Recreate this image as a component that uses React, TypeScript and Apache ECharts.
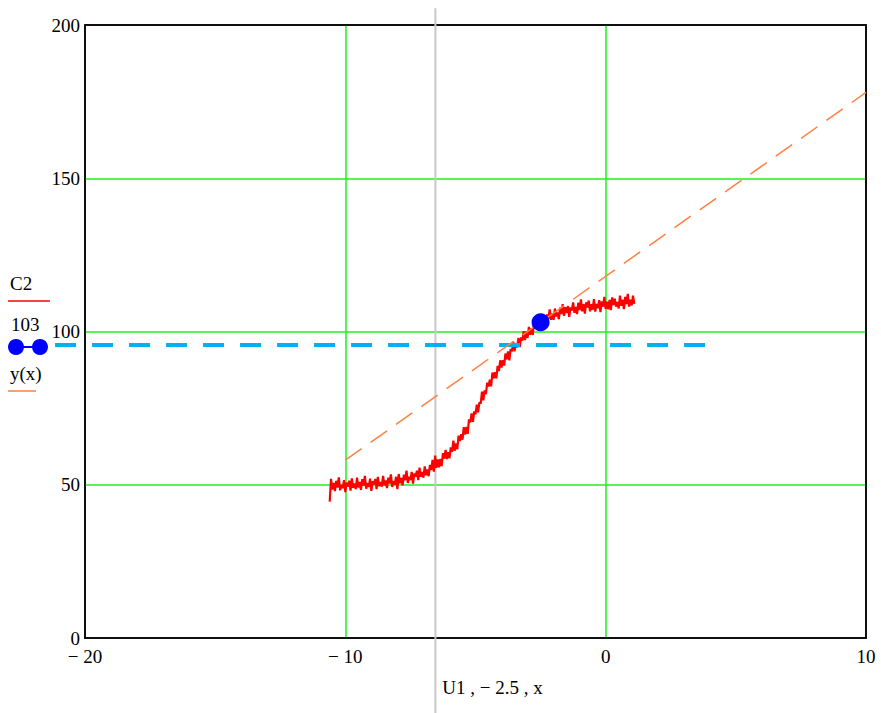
import React, { useEffect, useRef } from 'react';
import * as echarts from 'echarts';

const c2X = [
  -10.6, -10.55, -10.5, -10.45, -10.4, -10.35, -10.3, -10.25, -10.2, -10.15,
  -10.1, -10.05, -10.0, -9.95, -9.9, -9.85, -9.8, -9.75, -9.7, -9.65,
  -9.6, -9.55, -9.5, -9.45, -9.4, -9.35, -9.3, -9.25, -9.2, -9.15,
  -9.1, -9.05, -9.0, -8.95, -8.9, -8.85, -8.8, -8.75, -8.7, -8.65,
  -8.6, -8.55, -8.5, -8.45, -8.4, -8.35, -8.3, -8.25, -8.2, -8.15,
  -8.1, -8.05, -8.0,
  -7.95, -7.9, -7.85, -7.8, -7.75, -7.7, -7.65, -7.6, -7.55, -7.5,
  -7.45, -7.4, -7.35, -7.3, -7.25, -7.2, -7.15, -7.1, -7.05, -7.0,
  -6.95, -6.9, -6.85, -6.8, -6.75, -6.7, -6.65, -6.6, -6.55, -6.5,
  -6.45, -6.4, -6.35, -6.3, -6.25, -6.2, -6.15, -6.1, -6.05, -6.0,
  -5.95, -5.9, -5.85, -5.8, -5.75, -5.7, -5.65, -5.6, -5.55, -5.5,
  -5.45, -5.4, -5.35, -5.3, -5.25, -5.2, -5.15, -5.1, -5.05, -5.0,
  -4.95, -4.9, -4.85, -4.8, -4.75, -4.7, -4.65, -4.6, -4.55, -4.5,
  -4.45, -4.4, -4.35, -4.3, -4.25, -4.2, -4.15, -4.1, -4.05, -4.0,
  -3.95, -3.9, -3.85, -3.8, -3.75, -3.7, -3.65, -3.6, -3.55, -3.5,
  -3.45, -3.4, -3.35, -3.3, -3.25, -3.2, -3.15, -3.1, -3.05, -3.0,
  -2.95, -2.9, -2.85, -2.8, -2.75, -2.7, -2.65, -2.6, -2.55, -2.5,
  -2.45, -2.4, -2.35, -2.3, -2.25, -2.2, -2.15, -2.1, -2.05, -2.0,
  -1.95, -1.9, -1.85, -1.8, -1.75, -1.7, -1.65, -1.6, -1.55, -1.5,
  -1.45, -1.4, -1.35, -1.3, -1.25, -1.2, -1.15, -1.1, -1.05, -1.0,
  -0.95, -0.9, -0.85, -0.8, -0.75, -0.7, -0.65, -0.6, -0.55, -0.5,
  -0.45, -0.4, -0.35, -0.3, -0.25, -0.2, -0.15, -0.1, -0.05, 0.0,
  0.05, 0.1, 0.15, 0.2, 0.25, 0.3, 0.35, 0.4, 0.45, 0.5,
  0.55, 0.6, 0.65, 0.7, 0.75, 0.8, 0.85, 0.9, 0.95, 1.0,
  1.05, 1.1,
];
const c2Y = [
  44.5, 51.9, 48.4, 50.6, 47.9, 51.3, 49.1, 52.4, 48.2, 50.0,
  48.9, 51.5, 47.6, 50.7, 49.4, 51.3, 48.1, 52.1, 49.0, 50.4,
  48.6, 52.3, 49.1, 50.9, 48.3, 51.8, 49.7, 52.9, 48.7, 50.6,
  49.3, 52.0, 48.0, 51.2, 50.1, 51.9, 48.6, 52.6, 49.5, 50.9,
  49.4, 52.9, 49.8, 51.4, 48.9, 52.3, 50.4, 53.4, 49.3, 51.2,
  50.0, 52.6, 48.6,
  53.5, 50.5, 52.2, 49.8, 53.3, 51.5, 54.6, 50.6, 52.6, 51.5,
  54.2, 50.4, 53.7, 52.7, 54.6, 51.5, 55.6, 52.6, 54.2, 52.3,
  56.0, 53.1, 55.0, 52.8, 56.5, 54.8, 58.1, 54.3, 59.5, 55.5,
  58.3, 55.7, 58.4, 56.1, 60.3, 58.5, 61.4, 58.4, 60.6, 58.6,
  62.2, 60.7, 64.4, 61.1, 63.5, 61.6, 66.0, 64.3, 66.5, 64.7,
  68.8, 66.4, 68.9, 66.6, 71.3, 70.4, 73.3, 70.5, 73.9, 73.0,
  76.1, 73.6, 76.9, 76.5, 80.4, 77.5, 80.8, 79.6, 83.3, 82.0,
  84.3, 82.1, 86.6, 84.7, 86.7, 84.7, 88.8, 87.1, 90.6, 88.2,
  90.6, 88.9, 92.8, 90.9, 93.5, 90.6, 94.3, 93.5, 96.6, 93.5,
  96.1, 94.8, 97.9, 94.9, 98.1, 97.0, 100.1, 97.2, 100.1, 97.9,
  101.5, 98.9, 101.1, 98.9, 103.5, 101.0, 103.1, 100.5, 103.0, 101.9,
  105.3, 102.0, 104.6, 101.7, 105.6, 104.1, 107.2, 103.8, 105.9, 103.8,
  107.5, 104.9, 106.2, 104.0, 107.8, 105.7, 108.9, 105.1, 107.9, 106.0,
  108.3, 104.8, 107.9, 106.8, 109.5, 106.1, 108.0, 105.7, 109.4, 107.0,
  110.5, 106.6, 108.9, 105.8, 109.5, 107.8, 110.1, 106.6, 108.9, 107.1,
  110.6, 106.5, 109.0, 107.6, 110.2, 106.3, 109.8, 108.1, 111.3, 107.4,
  109.7, 107.2, 110.3, 107.0, 111.1, 108.6, 110.7, 108.1, 109.6, 107.5,
  111.7, 108.4, 110.4, 107.3, 111.3, 108.9, 112.3, 108.1, 110.4, 108.5,
  111.7, 109.0,
];

// y(x) line (orange dashed), endpoints
const yxX = [-10, 10];
const yxY = [58, 178];

// single point (-2.5, 103)
const pointX = [-2.5];
const pointY = [103];

// markers
const vMarkerX = -6.54;
const vMarkerYRange = [205.5, -24.5];
const hMarkerY = 95.6;
const hMarkerXRange = [-21.15, 4.0];

// axes
const xMin = -20, xMax = 10, xStep = 10;
const yMin = 0, yMax = 200, yStep = 50;

const FONT = '"Liberation Serif", "Times New Roman", serif';

export default function App() {
  const ref = useRef<HTMLDivElement>(null);
  useEffect(() => {
    const chart = echarts.init(ref.current!, null, { renderer: 'svg' });
    const green = '#22ee22';
    const frameLine = { show: true, onZero: false, lineStyle: { color: '#000', width: 1.5 } };
    const legendGraphics: any[] = [
      { type: 'text', left: 10, top: 274, style: { text: 'C2', font: '19px ' + FONT, fill: '#000' } },
      { type: 'line', shape: { x1: 8, y1: 301, x2: 50, y2: 301 }, style: { stroke: '#ff0000', lineWidth: 1.5 } },
      { type: 'text', left: 11, top: 315, style: { text: '103', font: '19px ' + FONT, fill: '#000' } },
      { type: 'line', shape: { x1: 16, y1: 347, x2: 40, y2: 347 }, style: { stroke: '#0000ff', lineWidth: 2 } },
      { type: 'circle', shape: { cx: 16, cy: 347, r: 8 }, style: { fill: '#0000ff' } },
      { type: 'circle', shape: { cx: 40, cy: 347, r: 8 }, style: { fill: '#0000ff' } },
      { type: 'text', left: 10, top: 364, style: { text: 'y(x)', font: '19px ' + FONT, fill: '#000' } },
      { type: 'line', shape: { x1: 8, y1: 391, x2: 36, y2: 391 }, style: { stroke: '#ff8040', lineWidth: 1.5 } },
    ];
    chart.setOption({
      animation: false,
      backgroundColor: '#ffffff',
      grid: {
        left: 85, right: 15, top: 25, bottom: 75,
        show: true, borderColor: '#000', borderWidth: 1.5, backgroundColor: 'transparent',
      },
      xAxis: [
        {
          type: 'value', min: xMin, max: xMax, interval: xStep,
          axisLine: frameLine,
          axisTick: { show: false },
          splitLine: { show: true, showMinLine: false, showMaxLine: false, lineStyle: { color: green, width: 1.5 } },
          axisLabel: {
            margin: 9, fontFamily: FONT, fontSize: 19, color: '#000',
            formatter: (v: number) => (v < 0 ? '\u2212 ' + Math.abs(v) : String(v)),
          },
          name: 'U1 , \u2212 2.5 , x',
          nameLocation: 'middle',
          nameGap: 40,
          nameTextStyle: { fontFamily: FONT, fontSize: 19, color: '#000', padding: [0, 0, 0, 34] },
        },
        {
          type: 'value', position: 'top', min: xMin, max: xMax, interval: xStep,
          axisLine: frameLine, axisTick: { show: false }, axisLabel: { show: false }, splitLine: { show: false },
        },
      ],
      yAxis: [
        {
          type: 'value', min: yMin, max: yMax, interval: yStep,
          axisLine: frameLine,
          axisTick: { show: false },
          splitLine: { show: true, showMinLine: false, showMaxLine: false, lineStyle: { color: green, width: 1.5 } },
          axisLabel: { margin: 5, fontFamily: FONT, fontSize: 19, color: '#000' },
        },
        {
          type: 'value', position: 'right', min: yMin, max: yMax, interval: yStep,
          axisLine: frameLine, axisTick: { show: false }, axisLabel: { show: false }, splitLine: { show: false },
        },
      ],
      graphic: legendGraphics,
      series: [
        {
          type: 'line', name: 'marker-v', silent: true, clip: false, symbol: 'none', z: 1,
          data: vMarkerYRange.map((y) => [vMarkerX, y]),
          lineStyle: { color: '#c8c8c8', width: 2 },
        },
        {
          type: 'line', name: 'C2', symbol: 'none', z: 2,
          data: c2X.map((x, i) => [x, c2Y[i]]),
          lineStyle: { color: '#ff0000', width: 2.2 },
        },
        {
          type: 'line', name: 'y(x)', symbol: 'none', z: 4,
          data: yxX.map((x, i) => [x, yxY[i]]),
          lineStyle: { color: '#ff8040', width: 1.5, type: [20, 11] },
        },
        {
          type: 'scatter', name: '103', z: 5, symbolSize: 18,
          data: pointX.map((x, i) => [x, pointY[i]]),
          itemStyle: { color: '#0000ff', opacity: 1 },
        },
      ],
    });
    // horizontal marker: positioned through the chart's own axis scales
    const p0 = chart.convertToPixel({ xAxisIndex: 0, yAxisIndex: 0 }, [hMarkerXRange[0], hMarkerY]) as number[];
    const p1 = chart.convertToPixel({ xAxisIndex: 0, yAxisIndex: 0 }, [hMarkerXRange[1], hMarkerY]) as number[];
    chart.setOption({
      graphic: [
        ...legendGraphics,
        {
          type: 'line', z: 3, silent: true,
          shape: { x1: p0[0], y1: p0[1], x2: p1[0], y2: p1[1] },
          style: { stroke: '#00b0f0', lineWidth: 4, lineDash: [21, 16] },
        },
      ],
    });
    return () => chart.dispose();
  }, []);
  return (
    <div
      ref={ref}
      style={{ position: 'fixed', left: 0, top: 0, width: 881, height: 713, background: '#fff' }}
    />
  );
}
